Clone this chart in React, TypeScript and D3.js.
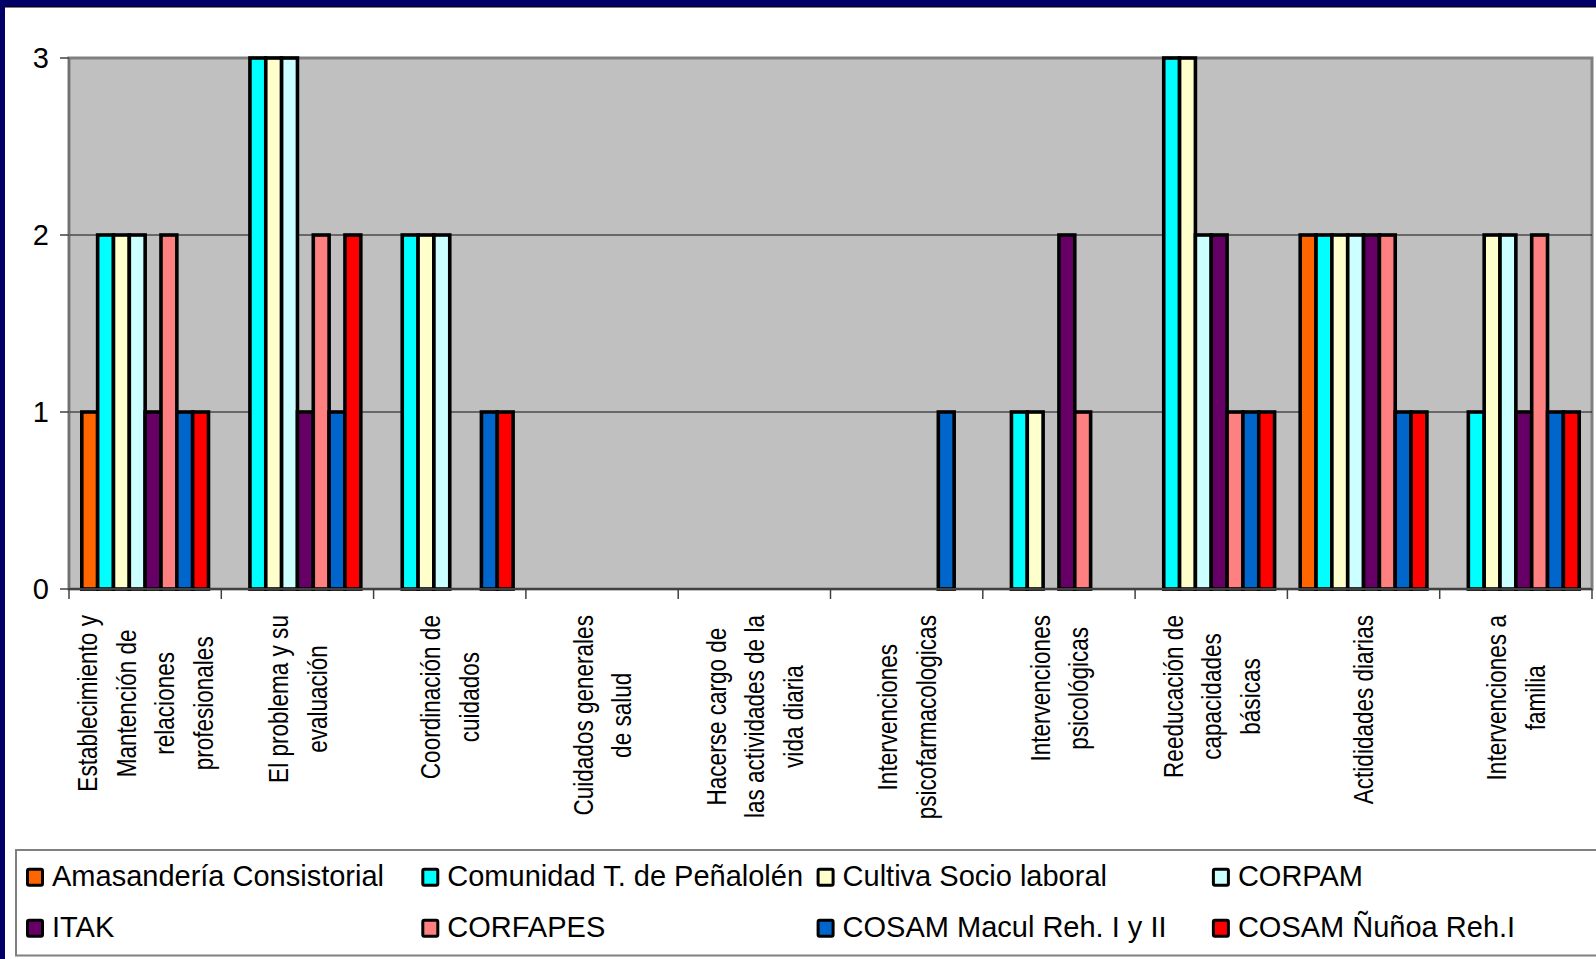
import React, { useEffect, useRef } from "react";
import * as d3 from "d3";

const categories: string[][] = [
  ["Establecimiento y", "Mantención de", "relaciones", "profesionales"],
  ["El problema y su", "evaluación"],
  ["Coordinación de", "cuidados"],
  ["Cuidados generales", "de salud"],
  ["Hacerse cargo de", "las actividades de la", "vida diaria"],
  ["Intervenciones", "psicofarmacologicas"],
  ["Intervenciones", "psicológicas"],
  ["Reeducación de", "capacidades", "básicas"],
  ["Actididades diarias"],
  ["Intervenciones a", "familia"],
];

const seriesNames = [
  "Amasandería Consistorial",
  "Comunidad T. de Peñalolén",
  "Cultiva Socio laboral",
  "CORPAM",
  "ITAK",
  "CORFAPES",
  "COSAM Macul Reh. I y II",
  "COSAM Ñuñoa Reh.I",
];

const seriesColors = ["#FF6600", "#00FFFF", "#FFFFCC", "#CCFFFF", "#660066", "#FF8080", "#0066CC", "#FF0000"];

const amasanderia = [1, 0, 0, 0, 0, 0, 0, 0, 2, 0];
const comunidad = [2, 3, 2, 0, 0, 0, 1, 3, 2, 1];
const cultiva = [2, 3, 2, 0, 0, 0, 1, 3, 2, 2];
const corpam = [2, 3, 2, 0, 0, 0, 0, 2, 2, 2];
const itak = [1, 1, 0, 0, 0, 0, 2, 2, 2, 1];
const corfapes = [2, 2, 0, 0, 0, 0, 1, 1, 2, 2];
const macul = [1, 1, 1, 0, 0, 1, 0, 1, 1, 1];
const nunoa = [1, 2, 1, 0, 0, 0, 0, 1, 1, 1];

const seriesValues = [amasanderia, comunidad, cultiva, corpam, itak, corfapes, macul, nunoa];
const yTicks = [0, 1, 2, 3];

const W = 1596;
const H = 959;

export default function App() {
  const ref = useRef<SVGSVGElement | null>(null);

  useEffect(() => {
    const svg = d3.select(ref.current);
    svg.selectAll("*").remove();

    const left = 69, right = 1592, top = 58, bottom = 589;
    const catKeys = categories.map((_, i) => String(i));
    const x0 = d3.scaleBand<string>().domain(catKeys).range([left, right]).padding(0);
    const bw = x0.bandwidth();
    const x1 = d3.scaleBand<string>().domain(seriesNames).range([12.8, bw - 12.8]).padding(0);
    const y = d3.scaleLinear().domain([0, 3]).range([bottom, top]);

    // background
    svg.append("rect").attr("width", W).attr("height", H).attr("fill", "#ffffff");
    // navy frame
    svg.append("rect").attr("x", 0).attr("y", 0).attr("width", W).attr("height", 7).attr("fill", "#000066");
    svg.append("line").attr("x1", 0).attr("x2", W).attr("y1", 7).attr("y2", 7).attr("stroke", "#000000").attr("stroke-width", 1);
    svg.append("rect").attr("x", 0).attr("y", 0).attr("width", 5).attr("height", H).attr("fill", "#000066");

    // plot area
    svg.append("rect")
      .attr("x", left).attr("y", top).attr("width", right - left).attr("height", bottom - top)
      .attr("fill", "#C0C0C0").attr("stroke", "#808080").attr("stroke-width", 3);

    // gridlines
    svg.append("g").selectAll("line").data(yTicks.filter((t) => t > 0 && t < 3)).join("line")
      .attr("x1", left).attr("x2", right)
      .attr("y1", (d) => y(d)).attr("y2", (d) => y(d))
      .attr("stroke", "#101010").attr("stroke-width", 1);

    // bars
    const bars = svg.append("g");
    categories.forEach((_, ci) => {
      seriesNames.forEach((s, si) => {
        const v = seriesValues[si][ci];
        if (v <= 0) return;
        bars.append("rect")
          .attr("x", (x0(String(ci)) as number) + (x1(s) as number))
          .attr("y", y(v))
          .attr("width", x1.bandwidth())
          .attr("height", y(0) - y(v))
          .attr("fill", seriesColors[si])
          .attr("stroke", "#000000")
          .attr("stroke-width", 3.6);
      });
    });

    // axes lines
    svg.append("line").attr("x1", left).attr("x2", left).attr("y1", top).attr("y2", bottom)
      .attr("stroke", "#707070").attr("stroke-width", 2);
    svg.append("line").attr("x1", left).attr("x2", right).attr("y1", bottom).attr("y2", bottom)
      .attr("stroke", "#404040").attr("stroke-width", 2);

    // y ticks + labels
    const yg = svg.append("g");
    yTicks.forEach((t) => {
      yg.append("line").attr("x1", left - 9).attr("x2", left).attr("y1", y(t)).attr("y2", y(t))
        .attr("stroke", "#404040").attr("stroke-width", 1.5);
      yg.append("text").attr("x", 49).attr("y", y(t) + 10.4)
        .attr("text-anchor", "end")
        .attr("font-family", "'Liberation Sans', Arial, sans-serif")
        .attr("font-size", 29).attr("fill", "#000")
        .text(String(t));
    });

    // x ticks
    const xg = svg.append("g");
    for (let i = 0; i <= categories.length; i++) {
      const xx = i < categories.length ? (x0(String(i)) as number) : right;
      xg.append("line").attr("x1", xx).attr("x2", xx).attr("y1", bottom).attr("y2", bottom + 10)
        .attr("stroke", "#404040").attr("stroke-width", 1.5);
    }

    // x labels (rotated, narrow)
    const sx = 0.82;
    const fs = 27.5;
    const lh = 38.5;
    const labelTop = 615;
    const lg = svg.append("g");
    categories.forEach((lines, ci) => {
      const cx = (x0(String(ci)) as number) + bw / 2;
      const texts = lines.map((ln) => lg.append("text")
        .attr("font-family", "'Liberation Sans', Arial, sans-serif")
        .attr("font-size", fs).attr("fill", "#000")
        .attr("text-anchor", "middle")
        .text(ln));
      const lens = texts.map((t) => (t.node() as SVGTextElement).getComputedTextLength() * sx);
      const maxLen = d3.max(lens) || 0;
      const cy = labelTop + maxLen / 2;
      const n = lines.length;
      texts.forEach((t, i) => {
        const bx = cx + (i - (n - 1) / 2) * lh + fs * 0.716 / 2;
        t.attr("transform", `translate(${bx},${cy}) rotate(-90) scale(${sx},1)`);
      });
    });

    // legend
    svg.append("rect").attr("x", 16).attr("y", 850).attr("width", 1600).attr("height", 105.5)
      .attr("fill", "#ffffff").attr("stroke", "#808080").attr("stroke-width", 2);
    const colStep = 395.3;
    seriesNames.forEach((s, i) => {
      const col = i % 4;
      const row = Math.floor(i / 4);
      const mx = 26 + col * colStep;
      const baseY = row === 0 ? 885.7 : 936.7;
      svg.append("rect").attr("x", mx + 1.5).attr("y", baseY - 16.5).attr("width", 15).attr("height", 16)
        .attr("rx", 1.5)
        .attr("fill", seriesColors[i]).attr("stroke", "#000").attr("stroke-width", 3);
      svg.append("text").attr("x", mx + 26).attr("y", baseY)
        .attr("font-family", "'Liberation Sans', Arial, sans-serif")
        .attr("font-size", 29).attr("fill", "#000")
        .text(s);
    });
  }, []);

  return (
    <svg
      ref={ref}
      width={W}
      height={H}
      style={{ position: "absolute", left: 0, top: 0, display: "block" }}
    />
  );
}
